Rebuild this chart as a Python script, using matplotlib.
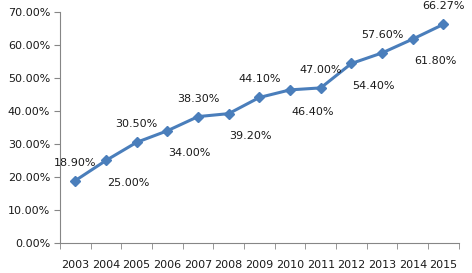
import numpy as np
import matplotlib
matplotlib.use("Agg")
import matplotlib.pyplot as plt

years = ["2003", "2004", "2005", "2006", "2007", "2008", "2009",
         "2010", "2011", "2012", "2013", "2014", "2015"]
rates = [18.90, 25.00, 30.50, 34.00, 38.30, 39.20, 44.10,
         46.40, 47.00, 54.40, 57.60, 61.80, 66.27]
# label position per point: above (centered) or below-right
label_pos = ["up", "down", "up", "down", "up", "down", "up",
             "down", "up", "down", "up", "down", "up"]
y_ticks = [0, 10, 20, 30, 40, 50, 60, 70]

line_color = "#4A7EBB"
axis_color = "#868686"

fig = plt.figure(figsize=(4.72, 2.73), dpi=100)
ax = fig.add_axes([0.127, 0.110, 0.845, 0.846])

x = np.arange(len(years))
ax.plot(x, rates, color=line_color, lw=2.2, marker="D", ms=5.5,
        markerfacecolor=line_color, markeredgecolor=line_color)

for xi, v, pos in zip(x, rates, label_pos):
    if pos == "up":
        ax.annotate("%.2f%%" % v, (xi, v), xytext=(0, 13),
                    textcoords="offset points", ha="center", va="center",
                    fontsize=8, color="#1a1a1a")
    else:
        ax.annotate("%.2f%%" % v, (xi, v), xytext=(16, -16),
                    textcoords="offset points", ha="center", va="center",
                    fontsize=8, color="#1a1a1a")

ax.set_xlim(-0.5, len(years) - 0.5)
ax.set_ylim(0, 70)
ax.set_yticks(y_ticks)
ax.set_yticklabels(["%.2f%%" % t for t in y_ticks], fontsize=8)
ax.set_xticks(x)
ax.set_xticklabels(years, fontsize=8)
ax.set_xticks(np.arange(-0.5, len(years)), minor=True)
ax.tick_params(axis="x", which="major", length=0, pad=12, labelcolor="#1a1a1a")
ax.tick_params(axis="x", which="minor", length=4, color=axis_color)
ax.tick_params(axis="y", length=4, color=axis_color, pad=3, labelcolor="#1a1a1a")

for s in ["top", "right"]:
    ax.spines[s].set_visible(False)
for s in ["left", "bottom"]:
    ax.spines[s].set_color(axis_color)
    ax.spines[s].set_linewidth(0.8)

fig.savefig("out.png", dpi=100)
